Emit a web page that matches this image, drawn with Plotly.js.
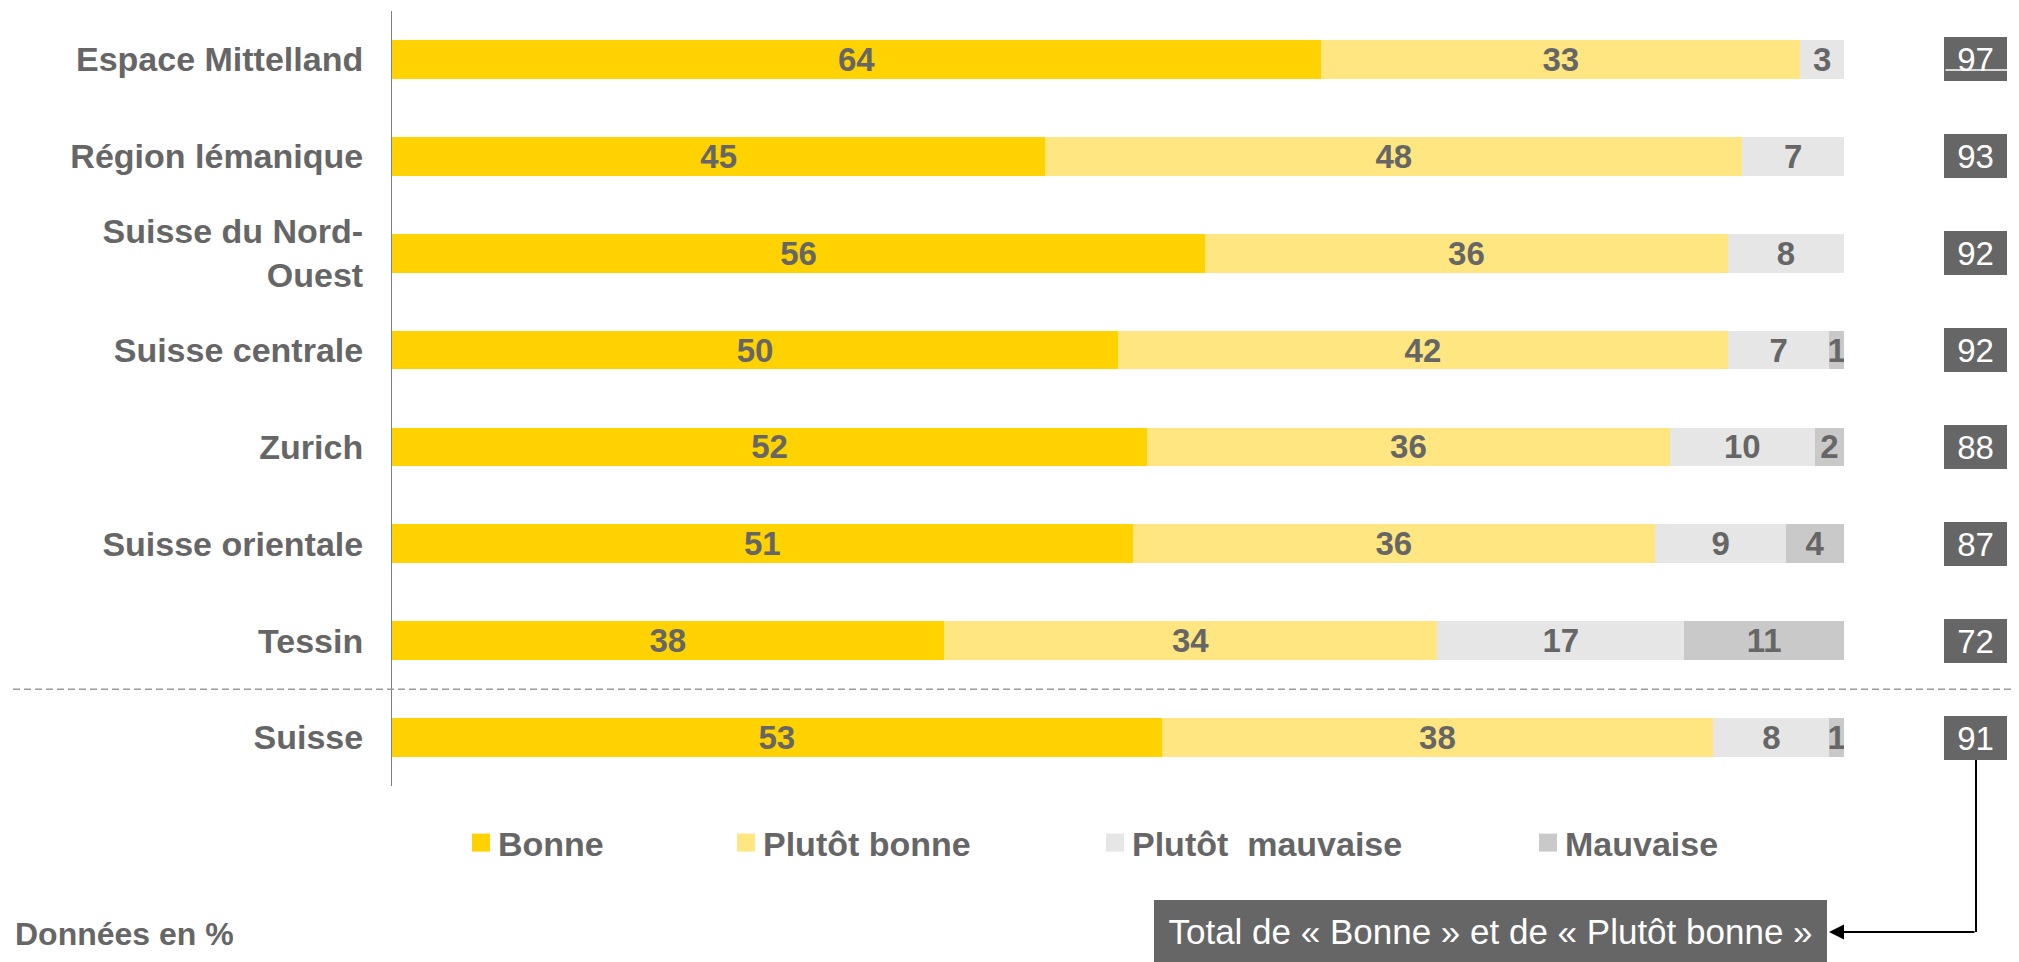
<!DOCTYPE html>
<html><head><meta charset="utf-8">
<script src="https://cdn.plot.ly/plotly-3.0.1.min.js"></script>
<style>html,body{margin:0;padding:0;background:#fff;} #chart{width:2019px;height:962px;}</style>
</head><body><div id="chart"></div>
<script>
// ---- data ----
const regions = ['Espace Mittelland','Région lémanique','Suisse du Nord-<br>Ouest','Suisse centrale','Zurich','Suisse orientale','Tessin','Suisse'];
const seriesNames = ['Bonne','Plutôt bonne','Plutôt\u00A0 mauvaise','Mauvaise'];
const bonne = [64,45,56,50,52,51,38,53];
const plutotBonne = [33,48,36,42,36,36,34,38];
const plutotMauvaise = [3,7,8,7,10,9,17,8];
const mauvaise = [0,0,0,1,2,4,11,1];
const totals = [97,93,92,92,88,87,72,91];
const footnote = 'Données en %';
const totalLabel = 'Total de «\u00A0Bonne\u00A0» et de «\u00A0Plutôt bonne\u00A0»';

// ---- styles ----
const colors = ['#FFD200','#FFE680','#E6E6E6','#C9C9C9'];
const gray = '#666666';
const FONT = 'Liberation Sans, Arial, sans-serif';
const W = 2019, H = 962, ML = 392, MR = 175, MT = 11, MB = 176;
const PW = W - ML - MR, PH = H - MT - MB;
const px2x = p => (p - ML) / PW;
const px2y = p => (H - MB - p) / PH;

const seriesValues = [bonne, plutotBonne, plutotMauvaise, mauvaise];
const legendKeys = ['legend','legend2','legend3','legend4'];
const legendX = [458, 723, 1092, 1525];

const traces = seriesValues.map((vals, s) => ({
  type: 'bar', orientation: 'h',
  y: regions, x: vals, name: seriesNames[s],
  marker: {color: colors[s], line: {width: 0}},
  text: vals.map(v => v > 0 ? String(v) : ''),
  textposition: 'inside', insidetextanchor: 'middle', textangle: 0,
  constraintext: 'none',
  textfont: {size: 33, color: gray, weight: 'bold', family: FONT},
  hoverinfo: 'skip',
  legend: legendKeys[s]
}));

const annotations = totals.map((t, i) => ({
  xref: 'paper', yref: 'y', x: px2x(1975.5), y: regions[i],
  xanchor: 'center', yanchor: 'middle',
  text: String(t), showarrow: false,
  bgcolor: gray, borderwidth: 0, borderpad: 0, width: 63, height: 44,
  font: {size: 33, color: '#ffffff', family: FONT}
}));
// thin white rule across the first total box (as in the reference)
annotations.push({
  xref: 'paper', yref: 'y', x: px2x(2007), y: regions[0], yshift: -10.5,
  text: '', showarrow: true, ax: -63, ay: 0,
  arrowhead: 0, arrowwidth: 1.5, arrowcolor: '#ffffff', standoff: 0
});
annotations.push({
  xref: 'paper', yref: 'paper', x: px2x(13), y: px2y(934), xanchor: 'left', yanchor: 'middle',
  text: footnote, showarrow: false,
  font: {size: 32, color: gray, weight: 'bold', family: FONT}
});
annotations.push({
  xref: 'paper', yref: 'paper', x: px2x(1490.5), y: px2y(931), xanchor: 'center', yanchor: 'middle',
  text: totalLabel, showarrow: false,
  bgcolor: gray, borderwidth: 0, borderpad: 0, width: 673, height: 62,
  font: {size: 35, color: '#ffffff', family: FONT}
});
annotations.push({
  xref: 'paper', yref: 'paper', x: px2x(1829), y: px2y(932),
  text: '', showarrow: true, ax: 147, ay: 0,
  arrowhead: 2, arrowsize: 1.5, arrowwidth: 2, arrowcolor: '#000000', standoff: 0
});

const shapes = [
  {type: 'line', xref: 'paper', yref: 'y', x0: px2x(13), x1: px2x(2012), y0: 6.5, y1: 6.5,
   line: {color: '#9a9a9a', width: 1.5, dash: '7px,4px'}},
  {type: 'line', xref: 'paper', yref: 'paper', x0: px2x(1976), x1: px2x(1976), y0: px2y(759), y1: px2y(932),
   line: {color: '#000000', width: 2}}
];

const layout = {
  width: W, height: H,
  margin: {l: ML, r: MR, t: MT, b: MB, pad: 0},
  paper_bgcolor: '#ffffff', plot_bgcolor: '#ffffff',
  font: {family: FONT, color: gray},
  barmode: 'stack', bargap: 0.6,
  showlegend: true,
  xaxis: {range: [0, 100], visible: false, fixedrange: true},
  yaxis: {
    type: 'category', categoryarray: regions, range: [7.5, -0.5],
    showline: true, linecolor: '#808080', linewidth: 1,
    ticks: '', showgrid: false, zeroline: false, fixedrange: true,
    ticklabelstandoff: 21,
    tickfont: {size: 34, color: gray, weight: 'bold', family: FONT}
  },
  annotations: annotations,
  shapes: shapes
};
legendKeys.forEach((k, i) => {
  layout[k] = {
    x: px2x(legendX[i]), y: px2y(843), xanchor: 'left', yanchor: 'middle',
    orientation: 'h', bgcolor: 'rgba(0,0,0,0)', borderwidth: 0,
    font: {size: 34, color: gray, weight: 'bold', family: FONT}
  };
});

const gd = document.getElementById('chart');
function enlargeSwatches() {
  // enlarge the legend swatches to the reference's square size
  gd.querySelectorAll('.legendpoints path').forEach(p => p.setAttribute('d', 'M12,9H-6V-9H12Z'));
}
Plotly.newPlot(gd, traces, layout, {displayModeBar: false, staticPlot: true}).then(() => {
  enlargeSwatches();
  gd.on('plotly_afterplot', enlargeSwatches);
  setTimeout(enlargeSwatches, 0);
  setTimeout(enlargeSwatches, 200);
});
</script>
</body></html>
